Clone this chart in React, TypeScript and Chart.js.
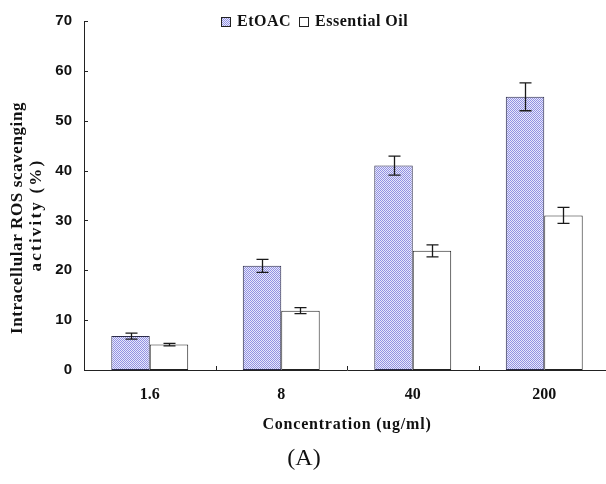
import React, { useEffect, useRef } from "react";
import { Chart, registerables } from "chart.js";

Chart.register(...registerables);

const categories = ["1.6", "8", "40", "200"];
const etoacValues = [6.8, 20.9, 41.0, 54.8];
const etoacErrors = [0.6, 1.3, 1.9, 2.8];
const oilValues = [5.1, 11.9, 23.9, 31.0];
const oilErrors = [0.25, 0.6, 1.2, 1.6];
const seriesNames = ["EtOAC", "Essential Oil"];
const yMax = 70;
const yStep = 10;
const yTitleLines = ["Intracellular ROS scavenging", "activity (%)"];
const xTitle = "Concentration (ug/ml)";
const panelLabel = "(A)";

const W = 612;
const H = 484;

function makePattern(): CanvasPattern | string {
  const c = document.createElement("canvas");
  c.width = 2;
  c.height = 2;
  const g = c.getContext("2d");
  if (!g) return "#b8b8ee";
  g.fillStyle = "#e8e8fb";
  g.fillRect(0, 0, 2, 2);
  g.fillStyle = "#9292e2";
  g.fillRect(0, 0, 1, 1);
  g.fillRect(1, 1, 1, 1);
  const p = g.createPattern(c, "repeat");
  return p || "#b8b8ee";
}

export default function App() {
  const ref = useRef<HTMLCanvasElement | null>(null);

  useEffect(() => {
    if (!ref.current) return;
    const pattern = makePattern();
    const errs = [etoacErrors, oilErrors];
    const vals = [etoacValues, oilValues];

    const errorBars = {
      id: "errorBars",
      afterDatasetsDraw(chart: any) {
        const ctx = chart.ctx;
        const y = chart.scales.y;
        ctx.save();
        ctx.strokeStyle = "#1a1a1a";
        ctx.lineWidth = 1.3;
        for (let d = 0; d < 2; d++) {
          const meta = chart.getDatasetMeta(d);
          meta.data.forEach((bar: any, j: number) => {
            const v = vals[d][j];
            const e = errs[d][j];
            const x = Math.round(bar.x) + 0.5;
            const yt = y.getPixelForValue(v + e);
            const yb = y.getPixelForValue(v - e);
            ctx.beginPath();
            ctx.moveTo(x, yt);
            ctx.lineTo(x, yb);
            ctx.moveTo(x - 6, yt);
            ctx.lineTo(x + 6, yt);
            ctx.moveTo(x - 6, yb);
            ctx.lineTo(x + 6, yb);
            ctx.stroke();
          });
        }
        ctx.restore();
      },
    };

    const decorations = {
      id: "decorations",
      afterDraw(chart: any) {
        const ctx = chart.ctx;
        const area = chart.chartArea;
        const x = chart.scales.x;
        const y = chart.scales.y;
        ctx.save();
        // inside ticks
        ctx.strokeStyle = "#222";
        ctx.lineWidth = 1;
        ctx.beginPath();
        for (let v = 0; v <= yMax; v += yStep) {
          const py = Math.round(y.getPixelForValue(v)) + 0.5;
          ctx.moveTo(area.left, py);
          ctx.lineTo(area.left + 4, py);
        }
        for (let i = 1; i < categories.length; i++) {
          const px =
            Math.round((x.getPixelForValue(i - 1) + x.getPixelForValue(i)) / 2) + 0.5;
          ctx.moveTo(px, area.bottom);
          ctx.lineTo(px, area.bottom - 4);
        }
        ctx.stroke();

        // legend
        ctx.fillStyle = "#111";
        ctx.textBaseline = "middle";
        ctx.textAlign = "left";
        ctx.font = "bold 16px 'Liberation Serif'";
        ctx.letterSpacing = "0.5px";
        const legendY = 22;
        const items = [
          { x: 221, fill: pattern, label: seriesNames[0] },
          { x: 299, fill: "#ffffff", label: seriesNames[1] },
        ];
        items.forEach((it) => {
          ctx.fillStyle = it.fill as any;
          ctx.fillRect(it.x, legendY - 5, 10, 10);
          ctx.strokeStyle = "#222";
          ctx.strokeRect(it.x + 0.5, legendY - 4.5, 9, 9);
          ctx.fillStyle = "#111";
          ctx.fillText(it.label, it.x + 16, legendY);
        });

        // y title
        ctx.save();
        ctx.font = "bold 17px 'Liberation Serif'";
        ctx.textAlign = "center";
        ctx.translate(18, 218);
        ctx.rotate(-Math.PI / 2);
        ctx.letterSpacing = "0.6px";
        ctx.fillText(yTitleLines[0], 0, 0);
        ctx.letterSpacing = "2.2px";
        ctx.fillText(yTitleLines[1], 3, 19);
        ctx.restore();

        // x title
        ctx.font = "bold 16px 'Liberation Serif'";
        ctx.letterSpacing = "0.8px";
        ctx.textAlign = "center";
        ctx.fillText(xTitle, (area.left + area.right) / 2, 425);

        // panel label
        ctx.font = "24px 'Liberation Serif'";
        ctx.letterSpacing = "0px";
        ctx.fillText(panelLabel, 304, 459);
        ctx.restore();
      },
    };

    const chart = new Chart(ref.current, {
      type: "bar",
      data: {
        labels: categories,
        datasets: [
          {
            label: seriesNames[0],
            data: etoacValues,
            backgroundColor: pattern as any,
            borderColor: "#2b2b4a",
            borderWidth: 1,
            borderSkipped: false,
          },
          {
            label: seriesNames[1],
            data: oilValues,
            backgroundColor: "#ffffff",
            borderColor: "#222",
            borderWidth: 1,
            borderSkipped: false,
          },
        ],
      },
      options: {
        animation: false,
        responsive: false,
        events: [],
        layout: { padding: { left: 0, top: 17, right: 2, bottom: 74 } },
        datasets: {
          bar: { categoryPercentage: 0.585, barPercentage: 1 },
        },
        plugins: {
          legend: { display: false },
          tooltip: { enabled: false },
          title: { display: false },
        },
        scales: {
          x: {
            grid: { display: false, drawTicks: false },
            border: { display: true, color: "#222", width: 1 },
            ticks: {
              padding: 15,
              color: "#111",
              font: { family: "'Liberation Serif'", size: 16, weight: "bold" },
            },
            afterFit(scale: any) {
              scale.height = 40;
            },
          },
          y: {
            min: 0,
            max: yMax,
            grid: { display: false, drawTicks: false },
            border: { display: true, color: "#222", width: 1 },
            ticks: {
              stepSize: yStep,
              padding: 12,
              color: "#111",
              font: { family: "'Liberation Sans'", size: 15, weight: "bold" },
            },
            afterFit(scale: any) {
              scale.width = 84;
            },
          },
        },
      },
      plugins: [errorBars, decorations],
    });
    return () => chart.destroy();
  }, []);

  return (
    <div style={{ position: "fixed", left: 0, top: 0, width: W, height: H, background: "#fff" }}>
      <canvas ref={ref} width={W} height={H} style={{ width: W, height: H, display: "block" }} />
    </div>
  );
}
